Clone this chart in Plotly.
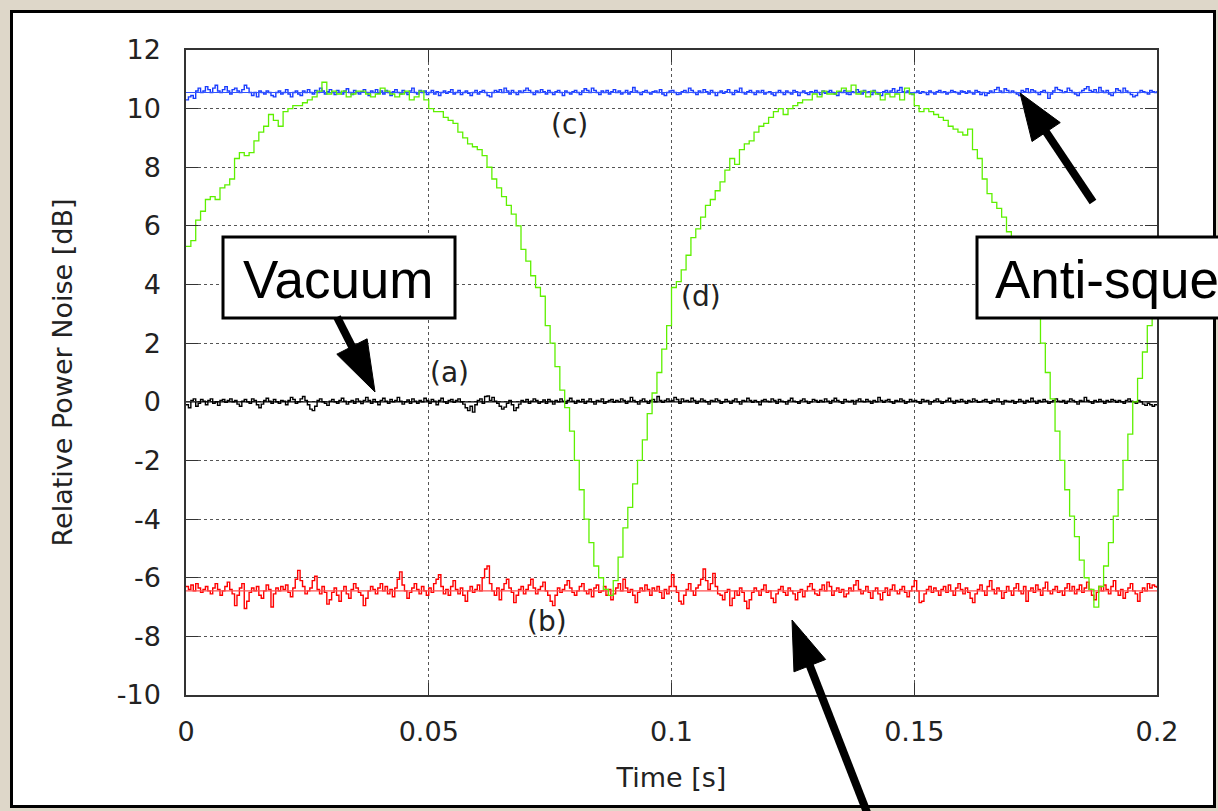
import plotly.graph_objects as go

# sample grids: noise traces every 0.5 ms, phase scan every 1 ms (0 .. 0.2 s)
time_noise = [i / 2000 for i in range(401)]
time_scan = [i / 1000 for i in range(201)]

# (a) vacuum noise, dB
vacuum = [
    -0.10, -0.20, 0.05, 0.10, -0.15, -0.05, 0.08, 0.02, -0.10, 0.05, 0.10, -0.05, 0.00, -0.12, 0.05, 0.08, -0.02, 0.05, 0.10, 0.00,
    0.05, -0.08, -0.15, 0.02, 0.08, 0.00, -0.05, 0.10, 0.05, -0.10, -0.20, -0.08, 0.05, 0.12, 0.02, -0.05, 0.08, 0.00, -0.05, 0.05,
    0.02, -0.10, 0.05, 0.15, 0.08, -0.05, 0.00, 0.10, 0.18, 0.05, -0.10, -0.25, -0.30, -0.15, 0.05, 0.10, 0.00, -0.05, -0.12, 0.02,
    0.08, 0.00, -0.05, 0.05, 0.12, 0.02, -0.08, 0.00, 0.05, -0.05, 0.10, 0.02, -0.06, 0.05, 0.15, 0.05, -0.05, 0.08, 0.00, -0.10,
    0.05, 0.12, 0.02, -0.05, 0.08, 0.00, 0.05, 0.15, 0.02, -0.08, 0.00, 0.06, -0.05, 0.10, 0.02, -0.05, 0.05, 0.00, 0.12, 0.05,
    -0.05, 0.08, 0.02, -0.10, 0.05, 0.12, 0.00, -0.05, 0.05, 0.08, -0.02, 0.05, 0.10, 0.00, -0.08, -0.20, -0.30, -0.15, -0.35, -0.10,
    0.05, 0.10, -0.05, 0.18, 0.20, 0.05, 0.15, 0.02, -0.05, -0.15, -0.25, -0.18, -0.05, 0.05, -0.10, -0.30, -0.20, -0.08, 0.05, 0.00,
    0.08, -0.05, 0.02, 0.10, 0.05, -0.05, 0.00, 0.06, -0.05, 0.08, 0.02, -0.08, 0.05, 0.00, 0.10, 0.02, -0.05, 0.05, 0.12, 0.02,
    -0.05, 0.05, 0.00, 0.08, -0.05, 0.02, 0.10, 0.00, -0.08, 0.05, 0.02, 0.10, -0.05, 0.00, 0.05, 0.08, -0.02, 0.05, 0.00, 0.10,
    0.05, -0.05, 0.02, 0.15, 0.05, 0.00, -0.08, 0.05, 0.10, 0.02, -0.05, 0.05, 0.08, 0.00, 0.18, 0.05, -0.02, 0.05, 0.10, 0.02,
    0.05, 0.15, 0.08, -0.05, 0.10, 0.02, 0.05, 0.00, 0.12, 0.05, -0.05, 0.02, 0.10, 0.05, 0.00, -0.08, 0.05, 0.02, 0.10, 0.05,
    -0.05, 0.00, 0.08, 0.02, -0.05, 0.05, 0.10, 0.00, -0.08, 0.05, 0.02, 0.12, 0.05, -0.02, 0.05, 0.00, -0.10, 0.05, 0.08, 0.02,
    0.00, 0.10, 0.05, -0.05, 0.08, 0.02, 0.00, -0.08, 0.05, 0.12, 0.02, 0.00, -0.05, 0.05, 0.10, 0.02, -0.05, 0.00, 0.08, 0.05,
    -0.02, 0.05, 0.00, 0.10, 0.02, -0.05, 0.05, 0.12, 0.05, 0.00, -0.05, 0.08, 0.02, 0.00, 0.05, -0.08, 0.05, 0.10, 0.02, 0.00,
    0.08, 0.02, -0.05, 0.05, 0.00, 0.15, 0.05, -0.02, 0.05, 0.08, 0.00, -0.05, 0.05, 0.02, 0.10, 0.05, -0.05, 0.00, 0.08, 0.02,
    0.05, 0.00, -0.05, 0.08, 0.02, 0.05, -0.08, 0.00, 0.05, 0.10, 0.02, -0.05, 0.00, 0.05, 0.12, 0.02, -0.05, 0.05, 0.00, 0.08,
    0.02, -0.05, 0.05, 0.00, 0.10, 0.05, -0.02, 0.00, 0.05, 0.08, 0.00, -0.05, 0.05, 0.02, 0.10, 0.00, -0.08, 0.05, 0.02, 0.00,
    0.05, -0.05, 0.00, 0.08, 0.02, -0.05, 0.05, 0.00, 0.12, 0.02, -0.05, 0.05, 0.00, 0.08, 0.02, -0.05, 0.00, 0.05, 0.10, 0.02,
    0.00, 0.05, -0.05, 0.02, 0.10, 0.05, 0.00, -0.08, 0.05, 0.02, 0.15, 0.05, 0.00, -0.05, 0.05, 0.00, 0.08, 0.02, -0.05, 0.05,
    0.00, 0.08, 0.05, -0.02, 0.05, 0.00, -0.05, 0.05, 0.10, 0.02, 0.00, -0.05, 0.05, 0.00, -0.08, -0.12, -0.05, -0.10, -0.15, -0.10,
    -0.12,
]

# (b) squeezed noise, dB
squeezed = [
    -6.30, -6.40, -6.25, -6.45, -6.20, -6.35, -6.50, -6.40, -6.30, -6.45, -6.55, -6.35, -6.20, -6.40, -6.60, -6.45, -6.30, -6.15, -6.40, -6.55,
    -6.95, -6.60, -6.35, -6.20, -7.05, -6.80, -6.50, -6.35, -6.45, -6.30, -6.60, -6.70, -6.45, -6.25, -6.40, -7.00, -6.55, -6.35, -6.45, -6.30,
    -6.40, -6.25, -6.50, -6.65, -6.35, -6.05, -5.75, -6.10, -6.30, -6.55, -6.45, -6.35, -6.10, -5.95, -6.40, -6.55, -6.30, -6.50, -6.90, -6.75,
    -6.50, -6.35, -6.60, -6.80, -6.45, -6.30, -6.55, -6.70, -6.40, -6.20, -6.35, -6.50, -6.60, -6.95, -6.70, -6.45, -6.30, -6.40, -6.55, -6.35,
    -6.20, -6.45, -6.30, -6.55, -6.40, -6.65, -6.35, -6.05, -5.80, -6.25, -6.45, -6.70, -6.50, -6.35, -6.20, -6.40, -6.55, -6.30, -6.45, -6.60,
    -6.35, -6.50, -6.20, -6.05, -5.90, -6.30, -6.55, -6.40, -6.60, -6.30, -6.10, -6.40, -6.55, -6.35, -6.60, -6.80, -6.45, -6.30, -6.50, -6.40,
    -6.25, -6.45, -6.00, -5.70, -5.60, -6.20, -6.45, -6.60, -6.35, -6.75, -6.40, -6.20, -6.05, -6.35, -6.50, -6.85, -6.60, -6.40, -6.30, -6.55,
    -6.40, -6.25, -6.05, -6.35, -6.55, -6.40, -6.30, -6.15, -6.45, -6.60, -6.80, -6.95, -6.60, -6.35, -6.50, -6.40, -6.25, -6.10, -6.35, -6.50,
    -6.60, -6.45, -6.30, -6.20, -6.45, -6.55, -6.40, -6.65, -6.35, -6.25, -6.50, -6.45, -6.30, -6.60, -6.40, -6.75, -6.55, -6.35, -6.20, -6.45,
    -6.05, -6.35, -6.50, -6.40, -6.60, -6.85, -6.50, -6.35, -6.45, -6.25, -6.40, -6.60, -6.35, -6.45, -6.30, -6.50, -6.70, -6.40, -6.55, -6.30,
    -5.90, -6.30, -6.50, -6.80, -6.90, -6.60, -6.40, -6.20, -6.45, -6.60, -6.35, -6.25, -6.05, -5.70, -6.10, -6.40, -6.20, -5.85, -6.30, -6.55,
    -6.60, -6.75, -6.50, -6.40, -6.95, -6.70, -6.45, -6.60, -6.35, -6.50, -6.80, -7.05, -6.75, -6.50, -6.35, -6.45, -6.60, -6.40, -6.25, -6.50,
    -6.45, -6.70, -6.85, -6.55, -6.40, -6.30, -6.50, -6.60, -6.35, -6.45, -6.55, -6.75, -6.50, -6.40, -6.65, -6.45, -6.30, -6.20, -6.40, -6.55,
    -6.60, -6.40, -6.25, -6.45, -6.15, -6.30, -6.60, -6.45, -6.35, -6.50, -6.40, -6.65, -6.55, -6.35, -6.45, -6.25, -6.10, -6.40, -6.55, -6.45,
    -6.30, -6.50, -6.70, -6.45, -6.35, -6.55, -6.75, -6.50, -6.35, -6.60, -6.40, -6.25, -6.45, -6.55, -6.40, -6.30, -6.50, -6.65, -6.45, -6.30,
    -6.10, -6.45, -6.85, -6.80, -6.55, -6.40, -6.30, -6.50, -6.35, -6.45, -6.60, -6.40, -6.30, -6.50, -6.25, -6.45, -6.60, -6.35, -6.20, -6.40,
    -6.55, -6.35, -6.50, -6.70, -6.85, -6.55, -6.40, -6.25, -6.45, -6.60, -6.30, -6.10, -6.40, -6.55, -6.35, -6.45, -6.70, -6.50, -6.30, -6.45,
    -6.60, -6.35, -6.20, -6.45, -6.55, -6.30, -6.80, -6.45, -6.35, -6.50, -6.25, -6.40, -6.60, -6.35, -6.15, -6.45, -6.55, -6.40, -6.30, -6.50,
    -6.45, -6.60, -6.35, -6.20, -6.45, -6.30, -6.55, -6.40, -6.25, -6.50, -6.35, -6.15, -6.40, -6.60, -6.75, -6.50, -6.30, -6.45, -6.25, -6.40,
    -6.55, -6.30, -6.10, -6.45, -6.60, -6.40, -6.70, -6.50, -6.35, -6.20, -6.45, -6.55, -6.80, -6.50, -6.35, -6.45, -6.20, -6.35, -6.25, -6.30,
    -6.35,
]

# (c) anti-squeezed noise, dB
anti_squeezed = [
    10.30, 10.40, 10.45, 10.35, 10.60, 10.70, 10.55, 10.60, 10.75, 10.65, 10.55, 10.70, 10.80, 10.60, 10.55, 10.65, 10.75, 10.60, 10.50, 10.65,
    10.70, 10.60, 10.55, 10.65, 10.80, 10.70, 10.55, 10.45, 10.55, 10.40, 10.60, 10.55, 10.50, 10.60, 10.55, 10.45, 10.40, 10.55, 10.60, 10.50,
    10.55, 10.65, 10.50, 10.40, 10.55, 10.60, 10.50, 10.45, 10.60, 10.55, 10.65, 10.55, 10.50, 10.62, 10.55, 10.70, 10.60, 10.50, 10.58, 10.65,
    10.55, 10.48, 10.62, 10.55, 10.50, 10.60, 10.68, 10.55, 10.48, 10.62, 10.55, 10.50, 10.58, 10.65, 10.55, 10.45, 10.60, 10.55, 10.65, 10.52,
    10.60, 10.50, 10.62, 10.55, 10.45, 10.58, 10.65, 10.55, 10.50, 10.62, 10.55, 10.48, 10.60, 10.70, 10.55, 10.50, 10.62, 10.55, 10.60, 10.48,
    10.55, 10.62, 10.50, 10.58, 10.45, 10.55, 10.60, 10.52, 10.58, 10.65, 10.50, 10.55, 10.62, 10.48, 10.55, 10.60, 10.52, 10.45, 10.55, 10.62,
    10.50, 10.58, 10.62, 10.55, 10.45, 10.40, 10.55, 10.62, 10.58, 10.65, 10.55, 10.70, 10.60, 10.50, 10.62, 10.55, 10.48, 10.60, 10.55, 10.62,
    10.70, 10.62, 10.55, 10.48, 10.60, 10.55, 10.65, 10.58, 10.50, 10.62, 10.55, 10.48, 10.58, 10.62, 10.55, 10.45, 10.60, 10.55, 10.50, 10.58,
    10.62, 10.55, 10.48, 10.60, 10.68, 10.62, 10.55, 10.70, 10.62, 10.55, 10.48, 10.60, 10.55, 10.62, 10.50, 10.58, 10.65, 10.55, 10.60, 10.50,
    10.55, 10.62, 10.50, 10.58, 10.72, 10.60, 10.55, 10.48, 10.58, 10.62, 10.55, 10.50, 10.58, 10.60, 10.55, 10.65, 10.50, 10.45, 10.55, 10.60,
    10.62, 10.55, 10.48, 10.50, 10.58, 10.62, 10.55, 10.70, 10.62, 10.55, 10.48, 10.60, 10.55, 10.65, 10.58, 10.50, 10.62, 10.55, 10.45, 10.55,
    10.60, 10.52, 10.58, 10.65, 10.55, 10.48, 10.62, 10.58, 10.70, 10.55, 10.50, 10.58, 10.62, 10.55, 10.48, 10.60, 10.55, 10.62, 10.50, 10.55,
    10.58, 10.50, 10.45, 10.55, 10.62, 10.55, 10.48, 10.60, 10.55, 10.50, 10.62, 10.58, 10.45, 10.55, 10.60, 10.52, 10.48, 10.58, 10.55, 10.62,
    10.55, 10.48, 10.60, 10.52, 10.58, 10.62, 10.55, 10.50, 10.45, 10.58, 10.55, 10.62, 10.50, 10.48, 10.58, 10.55, 10.65, 10.58, 10.50, 10.62,
    10.55, 10.58, 10.48, 10.62, 10.55, 10.50, 10.45, 10.58, 10.62, 10.55, 10.60, 10.68, 10.55, 10.62, 10.72, 10.58, 10.55, 10.60, 10.52, 10.48,
    10.55, 10.60, 10.52, 10.58, 10.55, 10.48, 10.60, 10.55, 10.50, 10.58, 10.62, 10.55, 10.58, 10.50, 10.55, 10.62, 10.58, 10.55, 10.50, 10.60,
    10.58, 10.52, 10.60, 10.55, 10.50, 10.62, 10.58, 10.48, 10.55, 10.45, 10.52, 10.60, 10.55, 10.65, 10.72, 10.60, 10.55, 10.68, 10.62, 10.55,
    10.60, 10.55, 10.50, 10.45, 10.62, 10.58, 10.68, 10.55, 10.65, 10.60, 10.55, 10.48, 10.58, 10.62, 10.55, 10.35, 10.50, 10.60, 10.72, 10.65,
    10.62, 10.55, 10.58, 10.70, 10.62, 10.55, 10.50, 10.45, 10.55, 10.62, 10.68, 10.75, 10.62, 10.58, 10.65, 10.55, 10.72, 10.60, 10.55, 10.62,
    10.50, 10.45, 10.55, 10.68, 10.62, 10.55, 10.70, 10.60, 10.55, 10.48, 10.40, 10.45, 10.55, 10.62, 10.58, 10.55, 10.50, 10.62, 10.58, 10.55,
    10.60,
]

# (d) phase scanned, dB
phase_scan = [
    5.3, 5.5, 6.2, 6.5, 6.9, 7.0, 6.9, 7.3, 7.4, 7.6, 8.3, 8.5, 8.4, 8.5, 8.9, 9.2, 9.4, 9.8, 9.6, 9.4,
    9.9, 10.0, 10.1, 10.1, 10.2, 10.3, 10.4, 10.6, 10.9, 10.5, 10.6, 10.5, 10.6, 10.4, 10.5, 10.6, 10.6, 10.5, 10.4, 10.5,
    10.7, 10.6, 10.5, 10.4, 10.5, 10.6, 10.3, 10.4, 10.6, 10.3, 10.0, 9.9, 9.9, 9.7, 9.6, 9.5, 9.2, 9.0, 8.8, 8.7,
    8.6, 8.4, 8.0, 7.6, 7.3, 7.0, 6.7, 6.4, 6.0, 5.2, 4.8, 4.3, 3.9, 3.6, 2.6, 2.0, 1.2, 0.4, -0.2, -1.0,
    -2.0, -3.0, -4.0, -4.8, -5.6, -6.0, -6.4, -6.6, -6.1, -5.3, -4.3, -3.6, -2.8, -2.0, -1.3, -0.4, 0.3, 1.0, 1.8, 2.6,
    3.9, 4.1, 4.5, 5.0, 5.6, 5.9, 6.3, 6.7, 6.9, 7.2, 7.5, 7.9, 8.3, 8.1, 8.6, 8.8, 8.9, 9.2, 9.4, 9.5,
    9.7, 9.9, 10.0, 9.8, 10.0, 10.1, 10.2, 10.3, 10.3, 10.5, 10.4, 10.6, 10.5, 10.5, 10.6, 10.7, 10.6, 10.8, 10.5, 10.6,
    10.4, 10.6, 10.5, 10.3, 10.5, 10.4, 10.5, 10.3, 10.7, 10.5, 10.1, 9.9, 10.0, 9.9, 9.8, 9.7, 9.6, 9.4, 9.3, 9.2,
    9.1, 9.3, 8.6, 8.3, 7.6, 7.1, 6.8, 6.6, 6.3, 5.8, 5.4, 4.8, 4.4, 4.0, 3.4, 2.9, 2.0, 1.0, 0.1, -1.0,
    -2.0, -3.0, -3.9, -4.6, -5.4, -6.0, -6.4, -7.0, -6.3, -5.6, -4.8, -3.9, -3.0, -2.0, -1.1, 0.0, 0.8, 1.7, 2.6, 3.4,
    4.2,
]

# mean levels of the three flat traces
vacuum_mean = 0.0
squeezed_mean = -6.45
anti_squeezed_mean = 10.55

x_ticks = [0, 0.05, 0.1, 0.15, 0.2]
x_ticktext = ["0", "0.05", "0.1", "0.15", "0.2"]
y_ticks = [-10, -8, -6, -4, -2, 0, 2, 4, 6, 8, 10, 12]
y_ticktext = ["-10", "-8", "-6", "-4", "-2", "0", "2", "4", "6", "8", "10", "12"]

# pixel geometry of the page
W, H = 1218, 811
L, R, T, B = 186, 1157, 50, 695


def px(x, y):
    # pixel position -> paper coordinates
    return (x - L) / (R - L), (B - y) / (B - T)


def arrow(tail, tip, head_len=48, half_w=17, width=8):
    dx, dy = tip[0] - tail[0], tip[1] - tail[1]
    n = (dx * dx + dy * dy) ** 0.5
    ux, uy = dx / n, dy / n
    bx, by = tip[0] - head_len * ux, tip[1] - head_len * uy
    c1 = (bx - half_w * uy, by + half_w * ux)
    c2 = (bx + half_w * uy, by - half_w * ux)
    x0, y0 = px(*tail)
    x1, y1 = px(bx + 2 * ux, by + 2 * uy)
    line = dict(type="line", xref="paper", yref="paper", x0=x0, y0=y0, x1=x1, y1=y1,
                line=dict(color="black", width=width), layer="above")
    pts = [px(*tip), px(*c1), px(*c2)]
    path = "M{},{} L{},{} L{},{} Z".format(*[v for p in pts for v in p])
    head = dict(type="path", xref="paper", yref="paper", path=path,
                fillcolor="black", line=dict(color="black", width=1), layer="above")
    return [line, head]


def box(x0, y0, x1, y1):
    a, b = px(x0, y1)
    c, d = px(x1, y0)
    return dict(type="rect", xref="paper", yref="paper", x0=a, y0=b, x1=c, y1=d,
                fillcolor="white", line=dict(color="black", width=3), layer="above")


fig = go.Figure()

line_kw = dict(mode="lines", line_shape="hv", showlegend=False, hoverinfo="skip")
fig.add_trace(go.Scatter(x=time_noise, y=vacuum, line=dict(color="black", width=1.4), **line_kw))
fig.add_trace(go.Scatter(x=time_noise, y=squeezed, line=dict(color="#ff0000", width=1.4), **line_kw))
fig.add_trace(go.Scatter(x=time_noise, y=anti_squeezed, line=dict(color="#1a3dff", width=1.4), **line_kw))

for level, col in [(vacuum_mean, "black"), (squeezed_mean, "#ff5050"), (anti_squeezed_mean, "#3355ff")]:
    fig.add_trace(go.Scatter(x=[time_noise[0], time_noise[-1]], y=[level, level], mode="lines",
                             line=dict(color=col, width=1.2), showlegend=False, hoverinfo="skip"))

fig.add_trace(go.Scatter(x=time_scan, y=phase_scan, line=dict(color="#5ef000", width=1.3), **line_kw))

# curve labels
lab_font = dict(family="DejaVu Sans", size=28, color="#222")
for txt, xv, yv in [("(a)", 0.0542, 1.0), ("(b)", 0.0744, -7.5), ("(c)", 0.079, 9.45), ("(d)", 0.106, 3.6)]:
    fig.add_annotation(x=xv, y=yv, xref="x", yref="y", text=txt, showarrow=False, font=lab_font)

shapes = []
# white page panel
pa, pb = px(11.5, 806.5)
pc, pd = px(1214.5, 11.5)
shapes.append(dict(type="rect", xref="paper", yref="paper", x0=pa, y0=pb, x1=pc, y1=pd,
                   fillcolor="white", line=dict(color="black", width=3), layer="below"))
shapes.append(box(223, 237, 455, 318))
shapes.append(box(977, 237, 1260, 318))
shapes += arrow((337, 317), (375, 392), head_len=51, half_w=17)
shapes += arrow((1093, 202), (1020, 93), head_len=47, half_w=17)
shapes += arrow((868, 815), (792, 620), head_len=49, half_w=17)

box_font = dict(family="Liberation Sans, Arial", size=53, color="black")
vx, vy = px(338, 279)
fig.add_annotation(x=vx, y=vy, xref="paper", yref="paper", text="Vacuum", showarrow=False,
                   font=box_font, xanchor="center", yanchor="middle")
ax_, ay_ = px(993, 279)
fig.add_annotation(x=ax_, y=ay_, xref="paper", yref="paper", text="Anti-squeezing", showarrow=False,
                   font=box_font, xanchor="left", yanchor="middle")

tick_font = dict(family="DejaVu Sans", size=27, color="#222")
axis_kw = dict(showline=True, linecolor="#333", linewidth=1.5, mirror="ticks",
               ticks="inside", ticklen=12, tickwidth=1.2, tickcolor="#333",
               showgrid=True, gridcolor="#555", gridwidth=1, griddash="dot",
               zeroline=False, tickfont=tick_font)

fig.update_xaxes(range=[0, 0.2], tickvals=x_ticks, ticktext=x_ticktext, ticklabelstandoff=12,
                 title=dict(text="Time [s]", font=tick_font, standoff=22), **axis_kw)
fig.update_yaxes(range=[-10, 12], tickvals=y_ticks, ticktext=y_ticktext, ticklabelstandoff=18,
                 title=dict(text="Relative Power Noise [dB]", font=tick_font, standoff=36), **axis_kw)

fig.update_layout(width=W, height=H, margin=dict(l=L, r=W - R, t=T, b=H - B, autoexpand=False),
                  paper_bgcolor="#ded7c9", plot_bgcolor="white", shapes=shapes)

fig.write_html("out.html", config={"displayModeBar": False},
               post_script="document.body.style.margin='0';document.body.style.overflow='hidden';")
